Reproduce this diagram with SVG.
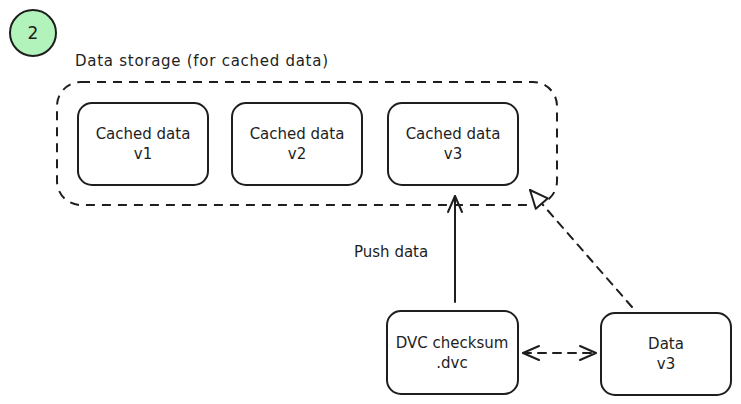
<svg xmlns="http://www.w3.org/2000/svg" width="741" height="404" viewBox="0 0 741 404">
<style>
.box{fill:#ffffff;stroke:#1e1e1e;stroke-width:2}
.t{font-family:"DejaVu Sans","Liberation Sans",sans-serif;font-size:15px;fill:#1e1e1e;text-anchor:middle}
.lbl{font-family:"DejaVu Sans","Liberation Sans",sans-serif;font-size:15px;fill:#1e1e1e}
.edge{fill:none;stroke:#1e1e1e;stroke-width:2;stroke-linecap:round}
.dash{stroke-dasharray:8 7}
</style>
<defs>
<marker id="open" viewBox="0 0 20 20" refX="18" refY="10" markerWidth="20" markerHeight="20" markerUnits="userSpaceOnUse" orient="auto-start-reverse">
<path d="M2,3 L18,10 L2,17" fill="none" stroke="#1e1e1e" stroke-width="2" stroke-linecap="round" stroke-linejoin="round"/>
</marker>
<marker id="tri" viewBox="0 0 22 22" refX="20" refY="11" markerWidth="22" markerHeight="22" markerUnits="userSpaceOnUse" orient="auto">
<path d="M2,3 L20,11 L2,19 Z" fill="#ffffff" stroke="#1e1e1e" stroke-width="2" stroke-linejoin="round"/>
</marker>
</defs>
<g id="badge">
<circle cx="33" cy="33" r="23" fill="#b2f2bb" stroke="#1e1e1e" stroke-width="2"/>
<text x="33" y="39" class="t" style="font-size:17px">2</text>
</g>
<g id="storage">
<text x="75" y="66" class="lbl" textLength="253">Data storage (for cached data)</text>
<rect x="57" y="82" width="500" height="123" rx="24" fill="none" stroke="#1e1e1e" stroke-width="2" stroke-dasharray="9 7"/>
</g>
<g id="cached-v1">
<rect class="box" x="78" y="103" width="130" height="82" rx="14"/>
<text x="143" y="139" class="t">Cached data</text>
<text x="143" y="159" class="t">v1</text>
</g>
<g id="cached-v2">
<rect class="box" x="232" y="103" width="130" height="82" rx="14"/>
<text x="297" y="139" class="t">Cached data</text>
<text x="297" y="159" class="t">v2</text>
</g>
<g id="cached-v3">
<rect class="box" x="388" y="103" width="130" height="82" rx="14"/>
<text x="453" y="139" class="t">Cached data</text>
<text x="453" y="159" class="t">v3</text>
</g>
<g id="dvc">
<rect class="box" x="387" y="311" width="131" height="83" rx="14"/>
<text x="452" y="348" class="t">DVC checksum</text>
<text x="452" y="368" class="t">.dvc</text>
</g>
<g id="data-v3">
<rect class="box" x="601" y="313" width="130" height="82" rx="14"/>
<text x="666" y="349" class="t">Data</text>
<text x="666" y="369" class="t">v3</text>
</g>
<g id="connectors">
<line class="edge" x1="455" y1="302" x2="455" y2="196" marker-end="url(#open)"/>
<text x="354" y="257" class="lbl">Push data</text>
<line class="edge dash" x1="632" y1="307" x2="530" y2="190" marker-end="url(#tri)"/>
<line class="edge dash" x1="523" y1="353" x2="596" y2="353" marker-start="url(#open)" marker-end="url(#open)"/>
</g>
</svg>
